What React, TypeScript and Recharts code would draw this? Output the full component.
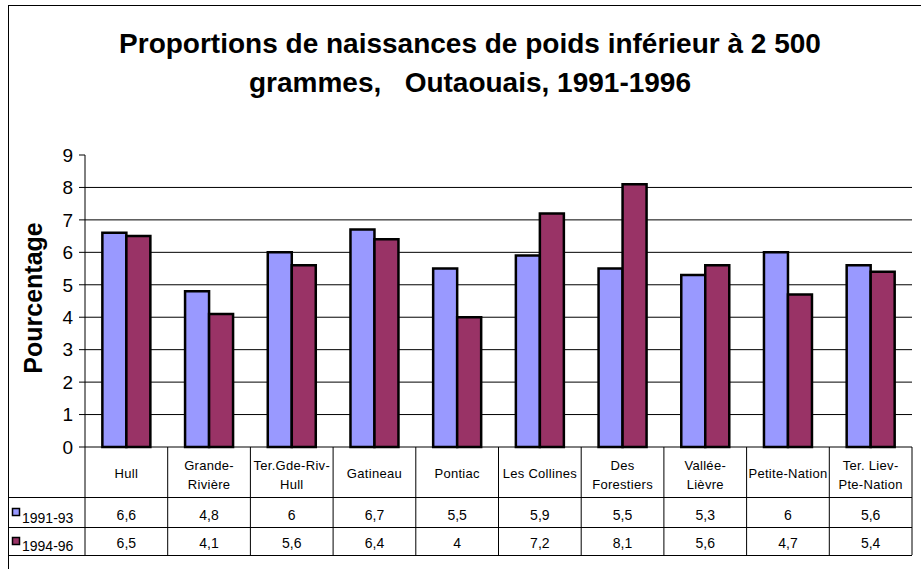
import { BarChart, Bar, XAxis, YAxis, CartesianGrid } from 'recharts';

const categories = ['Hull', 'Grande-\nRivière', 'Ter.Gde-Riv-\nHull', 'Gatineau', 'Pontiac', 'Les Collines', 'Des\nForestiers', 'Vallée-\nLièvre', 'Petite-Nation', 'Ter. Liev-\nPte-Nation'];
const s1991 = [6.6, 4.8, 6, 6.7, 5.5, 5.9, 5.5, 5.3, 6, 5.6];
const s1994 = [6.5, 4.1, 5.6, 6.4, 4, 7.2, 8.1, 5.6, 4.7, 5.4];
const seriesNames = ['1991-93', '1994-96'];
const yTicks = [0, 1, 2, 3, 4, 5, 6, 7, 8, 9];
const gridValues = [1, 2, 3, 4, 5, 6, 7, 8];
const titleLines = ['Proportions de naissances de poids inférieur à 2 500', 'grammes,   Outaouais, 1991-1996'];
const yLabel = 'Pourcentage';

const data = categories.map((c, i) => ({ name: c, a: s1991[i], b: s1994[i] }));

const FONT = '"Liberation Sans", Arial, sans-serif';
const W = 921, H = 569;
const PLOT_L = 85, PLOT_R = 912, AXIS_Y = 447;
const ROW1 = 497, ROW2 = 527, ROW3 = 555;
const band = (PLOT_R - PLOT_L) / categories.length;
const fmt = (v: number) => String(v).replace('.', ',');

function TableTick(props: any) {
  const { x, index, payload } = props;
  const lines = String(payload.value).split('\n');
  const left = x - band / 2;
  return (
    <g fontFamily={FONT} fill="#000">
      <line x1={left} x2={left} y1={AXIS_Y} y2={ROW3} stroke="#000" />
      {index === categories.length - 1 && <line x1={left + band} x2={left + band} y1={AXIS_Y} y2={ROW3} stroke="#000" />}
      <text textAnchor="middle" fontSize={13} fill="#000" letterSpacing={0.3}>
        {lines.map((l, i) => (
          <tspan key={i} x={x} y={lines.length === 1 ? 478 : 470 + i * 19}>{l}</tspan>
        ))}
      </text>
      <text x={x} y={520} textAnchor="middle" fontSize={14} fill="#000">{fmt(s1991[index])}</text>
      <text x={x} y={548} textAnchor="middle" fontSize={14} fill="#000">{fmt(s1994[index])}</text>
    </g>
  );
}

export default function App() {
  const colors = ['#9999FF', '#993366'];
  return (
    <div style={{ position: 'absolute', left: 0, top: 0, width: W, height: H, background: '#fff', overflow: 'hidden' }}>
      <BarChart width={W} height={H} data={data} margin={{ top: 155, right: W - PLOT_R, bottom: 14, left: 45 }}
        barCategoryGap="21%" barGap={0}>
        <CartesianGrid vertical={false} stroke="#000" horizontalValues={gridValues} />
        <YAxis width={40} domain={[0, 9]} ticks={yTicks} interval={0} stroke="#000" tickSize={6} tickMargin={6}
          tick={{ fontSize: 19, fill: '#000', fontFamily: FONT }} />
        <XAxis dataKey="name" height={108} interval={0} tickLine={false} stroke="#000" tick={<TableTick />} />
        <Bar dataKey="a" fill={colors[0]} stroke="#000" strokeWidth={2.5} isAnimationActive={false} />
        <Bar dataKey="b" fill={colors[1]} stroke="#000" strokeWidth={2.5} isAnimationActive={false} />
      </BarChart>
      <svg width={W} height={H} style={{ position: 'absolute', left: 0, top: 0, pointerEvents: 'none' }} fontFamily={FONT}>
        <line x1={8.5} x2={8.5} y1={5} y2={H} stroke="#000" />
        <line x1={8} x2={W} y1={5.5} y2={5.5} stroke="#000" />
        {titleLines.map((t, i) => (
          <text key={i} x={470} y={53 + i * 39} textAnchor="middle" fontSize={28} fontWeight="bold" fill="#000" style={{ whiteSpace: 'pre' }}>{t}</text>
        ))}
        <text transform="translate(42,298) rotate(-90)" textAnchor="middle" fontSize={25} fontWeight="bold" fill="#000">{yLabel}</text>
        {[ROW1, ROW2, ROW3].map((y) => (
          <line key={y} x1={8} x2={PLOT_R} y1={y + 0.5} y2={y + 0.5} stroke="#000" />
        ))}
        {seriesNames.map((n, i) => (
          <g key={n}>
            <rect x={12.5} y={508.5 + i * 29} width={7} height={7} fill={colors[i]} stroke="#000" strokeWidth={1.5} />
            <text x={22} y={523 + i * 28} fontSize={14} fill="#000">{n}</text>
          </g>
        ))}
      </svg>
    </div>
  );
}
